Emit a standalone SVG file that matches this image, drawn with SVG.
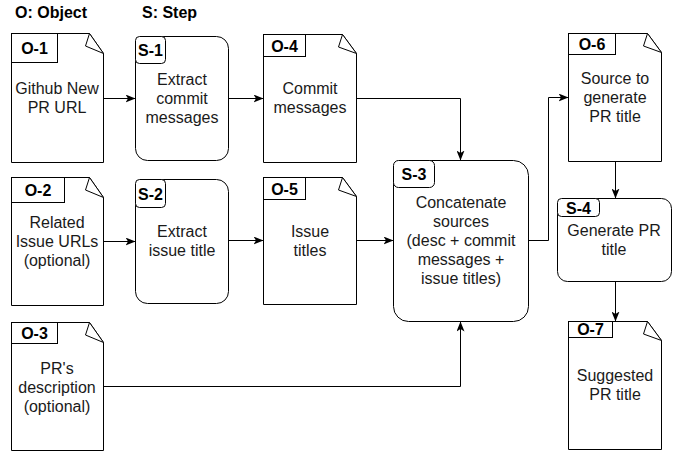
<svg xmlns="http://www.w3.org/2000/svg" width="682" height="453" viewBox="0 0 682 453">
<style>
.shape{fill:#fff;stroke:#000;stroke-width:1}
.flap{fill:#fff;stroke:#000;stroke-width:1;stroke-linejoin:round}
.lbl{fill:#fff;stroke:#000;stroke-width:1}
.t{font-family:"Liberation Sans",Arial,sans-serif;font-size:16px;fill:#1a1a1a;text-anchor:middle}
.b{font-family:"Liberation Sans",Arial,sans-serif;font-size:16px;font-weight:bold;fill:#000;text-anchor:middle}
.title{font-family:"Liberation Sans",Arial,sans-serif;font-size:16px;font-weight:bold;fill:#000}
.edge{fill:none;stroke:#000;stroke-width:1}
</style>
<defs>
<marker id="arr" markerUnits="userSpaceOnUse" viewBox="0 0 10 8" refX="10" refY="4" markerWidth="10" markerHeight="8" orient="auto">
<path d="M0,0 L10,4 L0,8 L2.5,4 Z" fill="#000"/>
</marker>
</defs>
<rect width="682" height="453" fill="#fff"/>
<text class="title" x="15" y="18">O: Object</text>
<text class="title" x="142" y="18">S: Step</text>

<g id="O-1">
<path class="shape" d="M11.5,33.5 H89.5 L103.5,53.5 V162.5 H11.5 Z"/>
<path class="flap" d="M89.5,33.5 L85.5,46 L103.5,53.5 Z"/>
<rect class="lbl" x="11.5" y="33.5" width="46" height="29"/>
<text class="b" x="34.5" y="54">O-1</text>
<text class="t"><tspan x="57" y="93.6">Github New</tspan><tspan x="57" y="112.6">PR URL</tspan></text>
</g>

<g id="O-2">
<path class="shape" d="M11.5,177.5 H89.5 L103.5,197.5 V305.5 H11.5 Z"/>
<path class="flap" d="M89.5,177.5 L85.5,190 L103.5,197.5 Z"/>
<rect class="lbl" x="11.5" y="177.5" width="53" height="25"/>
<text class="b" x="38" y="196">O-2</text>
<text class="t"><tspan x="57" y="227.6">Related</tspan><tspan x="57" y="246.6">Issue URLs</tspan><tspan x="57" y="265.6">(optional)</tspan></text>
</g>

<g id="O-3">
<path class="shape" d="M11.5,322.5 H89.5 L103.5,342.5 V450.5 H11.5 Z"/>
<path class="flap" d="M89.5,322.5 L85.5,335 L103.5,342.5 Z"/>
<rect class="lbl" x="11.5" y="322.5" width="46" height="21"/>
<text class="b" x="34.5" y="339">O-3</text>
<text class="t"><tspan x="57" y="373.6">PR's</tspan><tspan x="57" y="392.6">description</tspan><tspan x="57" y="411.6">(optional)</tspan></text>
</g>

<g id="O-4">
<path class="shape" d="M263.5,34.5 H342.5 L356.5,53.5 V162.5 H263.5 Z"/>
<path class="flap" d="M342.5,34.5 L338.5,47 L356.5,53.5 Z"/>
<rect class="lbl" x="263.5" y="34.5" width="42" height="22"/>
<text class="b" x="284.5" y="51.5">O-4</text>
<text class="t"><tspan x="310" y="94.1">Commit</tspan><tspan x="310" y="113.1">messages</tspan></text>
</g>

<g id="O-5">
<path class="shape" d="M263.5,177.5 H342.5 L356.5,196.5 V304.5 H263.5 Z"/>
<path class="flap" d="M342.5,177.5 L338.5,190 L356.5,196.5 Z"/>
<rect class="lbl" x="263.5" y="177.5" width="42" height="22"/>
<text class="b" x="284.5" y="194.5">O-5</text>
<text class="t"><tspan x="310" y="236.6">Issue</tspan><tspan x="310" y="255.6">titles</tspan></text>
</g>

<g id="O-6">
<path class="shape" d="M568.5,33.5 H647.5 L661.5,52.5 V161.5 H568.5 Z"/>
<path class="flap" d="M647.5,33.5 L643.5,46 L661.5,52.5 Z"/>
<rect class="lbl" x="568.5" y="33.5" width="47" height="21"/>
<text class="b" x="592" y="50">O-6</text>
<text class="t"><tspan x="615" y="83.6">Source to</tspan><tspan x="615" y="102.6">generate</tspan><tspan x="615" y="121.6">PR title</tspan></text>
</g>

<g id="O-7">
<path class="shape" d="M568.5,321.5 H647.5 L661.5,340.5 V449.5 H568.5 Z"/>
<path class="flap" d="M647.5,321.5 L643.5,334 L661.5,340.5 Z"/>
<rect class="lbl" x="568.5" y="321.5" width="44" height="16"/>
<text class="b" x="590.5" y="335">O-7</text>
<text class="t"><tspan x="615" y="381.1">Suggested</tspan><tspan x="615" y="400.1">PR title</tspan></text>
</g>

<g id="S-1">
<rect class="shape" x="135.5" y="36.5" width="93" height="124" rx="12"/>
<rect class="lbl" x="135.5" y="36.5" width="30" height="27" rx="4"/>
<text class="b" x="150.5" y="56">S-1</text>
<text class="t"><tspan x="182" y="84.6">Extract</tspan><tspan x="182" y="103.6">commit</tspan><tspan x="182" y="122.6">messages</tspan></text>
</g>

<g id="S-2">
<rect class="shape" x="135.5" y="179.5" width="93" height="124" rx="12"/>
<rect class="lbl" x="135.5" y="179.5" width="30" height="28" rx="4"/>
<text class="b" x="150.5" y="199.5">S-2</text>
<text class="t"><tspan x="182" y="237.1">Extract</tspan><tspan x="182" y="256.1">issue title</tspan></text>
</g>

<g id="S-3">
<rect class="shape" x="393.5" y="160.5" width="135" height="161" rx="15"/>
<rect class="lbl" x="393.5" y="160.5" width="41" height="27" rx="5"/>
<text class="b" x="414" y="180">S-3</text>
<text class="t"><tspan x="461" y="208.1">Concatenate</tspan><tspan x="461" y="227.1">sources</tspan><tspan x="461" y="246.1">(desc + commit</tspan><tspan x="461" y="265.1">messages +</tspan><tspan x="461" y="284.1">issue titles)</tspan></text>
</g>

<g id="S-4">
<rect class="shape" x="557.5" y="198.5" width="114" height="83" rx="10"/>
<rect class="lbl" x="557.5" y="198.5" width="42" height="18" rx="4"/>
<text class="b" x="578.5" y="214">S-4</text>
<text class="t"><tspan x="614" y="236.1">Generate PR</tspan><tspan x="614" y="255.1">title</tspan></text>
</g>

<g id="connectors">
<path class="edge" marker-end="url(#arr)" d="M103.5,98.5 H135.5"/>
<path class="edge" marker-end="url(#arr)" d="M228.5,98.5 H263.5"/>
<path class="edge" marker-end="url(#arr)" d="M356.5,98.5 H460.5 V160.5"/>
<path class="edge" marker-end="url(#arr)" d="M103.5,241.5 H135.5"/>
<path class="edge" marker-end="url(#arr)" d="M228.5,240.5 H263.5"/>
<path class="edge" marker-end="url(#arr)" d="M356.5,240.5 H393.5"/>
<path class="edge" marker-end="url(#arr)" d="M103.5,386.5 H460.5 V321.5"/>
<path class="edge" marker-end="url(#arr)" d="M528.5,240.5 H548.5 V97.5 H568.5"/>
<path class="edge" marker-end="url(#arr)" d="M615.5,161.5 V198.5"/>
<path class="edge" marker-end="url(#arr)" d="M615.5,281.5 V321.5"/>
</g>
</svg>
